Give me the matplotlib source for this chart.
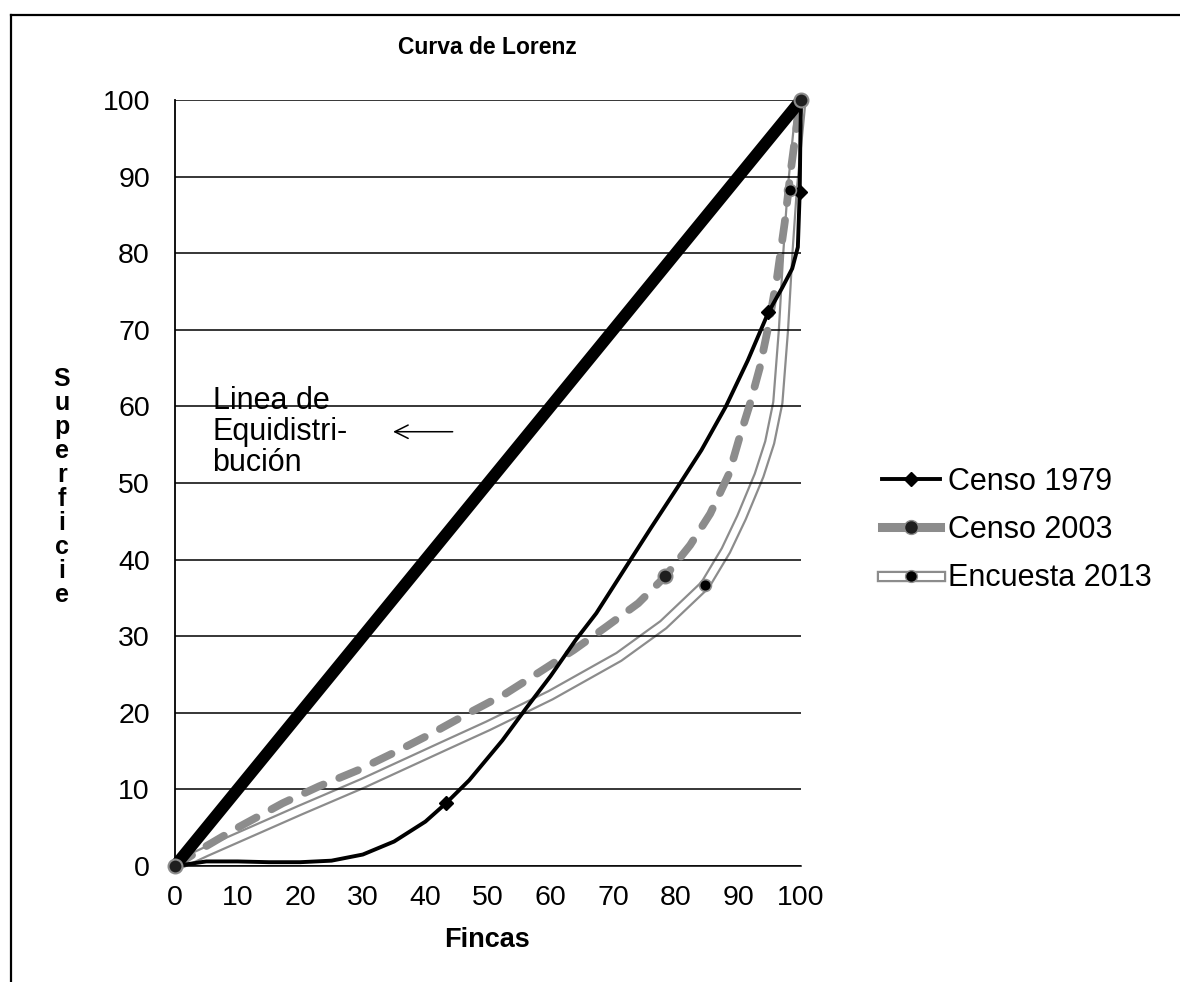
import matplotlib
matplotlib.use("Agg")
import matplotlib.pyplot as plt
from matplotlib.lines import Line2D

plt.rcParams["font.family"] = ["Liberation Sans", "DejaVu Sans"]

TITLE = "Curva de Lorenz"
X_LABEL = "Fincas"
Y_LABEL = "Superficie"
NOTE = "Linea de\nEquidistri-\nbución"
TICKS = list(range(0, 101, 10))
SERIES = ["Censo 1979", "Censo 2003", "Encuesta 2013"]

# line of perfect equality
EQ_X = [0, 100]
EQ_Y = [0, 100]

# smoothed traces, plus the marked data points
C79_X = [0, 5, 10, 15, 20, 25, 30, 35, 40, 43.3, 47, 52.3, 56, 60, 64, 67.3, 72, 76,
         80.4, 84.1, 88, 91.5, 94.8, 97, 98.6, 99.5, 99.8, 99.9, 100]
C79_Y = [0, 0.6, 0.6, 0.5, 0.5, 0.7, 1.5, 3.2, 5.8, 8.2, 11.2, 16.4, 20.5, 24.8, 29.5, 33.0,
         39.0, 44.1, 49.6, 54.3, 60.0, 66.0, 72.3, 75.5, 78.0, 80.8, 88.0, 95.0, 100]
C79_MX = [0, 43.3, 94.8, 99.8, 100]
C79_MY = [0, 8.2, 72.3, 88.0, 100]

C03_X = [0, 5, 10, 17.2, 23, 29.2, 35, 41, 47, 52.8, 58, 63.7, 69, 74, 78.3, 82.3, 85.5,
         88.5, 90.2, 91.8, 93.4, 94.8, 96.2, 97.4, 98.4, 99.3, 100]
C03_Y = [0, 2.6, 5.0, 8.2, 10.4, 12.5, 14.8, 17.3, 20.0, 22.5, 25.2, 28.2, 31.3, 34.3, 37.8,
         41.9, 46.0, 51.2, 56.0, 60.2, 65.0, 70.5, 77.0, 84.0, 91.0, 96.5, 100]
C03_MX = [0, 78.3, 100]
C03_MY = [0, 37.8, 100]

E13_X = [0, 5, 10, 20, 30, 43.3, 50, 60, 70.9, 78, 84.7, 88, 90.5, 93.3, 95, 96.3, 97.2,
         97.9, 98.6, 99.4, 100]
E13_Y = [0, 1.9, 3.7, 7.3, 10.8, 15.8, 18.3, 22.3, 27.3, 31.5, 36.7, 41.2, 45.5, 51.0, 55.3,
         60.5, 70.0, 80.0, 88.3, 95.0, 100]
E13_MX = [84.7, 98.3]
E13_MY = [36.7, 88.3]

GREY = "#8c8c8c"

fig = plt.figure(figsize=(11.8, 9.82), dpi=100)
ax = fig.add_axes([0.1483, 0.1181, 0.5305, 0.7800])
ax.set_xlim(0, 100)
ax.set_ylim(0, 100)
ax.set_xticks(TICKS)
ax.set_yticks(TICKS)
ax.tick_params(length=0, labelsize=20.5)
ax.tick_params(axis="y", pad=18)
ax.tick_params(axis="x", pad=14)
ax.set_axisbelow("line")
ax.grid(axis="y", color="black", lw=1.1)
for s in ("top", "right"):
    ax.spines[s].set_visible(False)
ax.spines["left"].set_linewidth(1.3)
ax.spines["bottom"].set_linewidth(1.1)

# Encuesta 2013: double line (grey outline, open core) under the grid
ax.plot(E13_X, E13_Y, color=GREY, lw=8.2, zorder=1.0, clip_on=False, solid_capstyle="round")
ax.plot(E13_X, E13_Y, color="white", lw=5.0, zorder=1.1, clip_on=False, solid_capstyle="round")

ax.plot(C03_X, C03_Y, color=GREY, lw=5.6, dashes=(2.6, 2.2), dash_capstyle="round",
        zorder=2.2, clip_on=False)
ax.plot(C79_X, C79_Y, color="black", lw=2.8, zorder=2.4, clip_on=False)
ax.plot(EQ_X, EQ_Y, color="black", lw=8.6, zorder=2.6, clip_on=False, solid_capstyle="butt")

ax.plot(C79_MX, C79_MY, ls="none", marker="D", ms=7.5, color="black", zorder=3, clip_on=False)
ax.plot(C03_MX, C03_MY, ls="none", marker="o", ms=10, mfc="#1e1e1e", mec=GREY, mew=1.5,
        zorder=3.1, clip_on=False)
ax.plot(E13_MX, E13_MY, ls="none", marker="o", ms=8.5, mfc="black", mec=GREY, mew=1.2,
        zorder=3.2, clip_on=False)

ax.text(6.0, 56.7, NOTE, fontsize=22, ha="left", va="center", linespacing=1.05)
ax.annotate("", xy=(34.4, 56.7), xytext=(44.8, 56.7),
            arrowprops=dict(arrowstyle="->", color="black", lw=1.1, mutation_scale=24))

fig.text(0.4127, 0.952, TITLE, fontsize=16.5, fontweight="bold", ha="center", va="center")
fig.text(0.4127, 0.0428, X_LABEL, fontsize=19.5, fontweight="bold", ha="center", va="center")
fig.text(0.0525, 0.504, "\n".join(Y_LABEL), fontsize=18, fontweight="bold",
         ha="center", va="center", linespacing=1.0)

h79 = Line2D([], [], color="black", lw=2.8, marker="D", ms=7.5)
h03 = Line2D([], [], color=GREY, lw=6.5, marker="o", ms=10, mfc="#1e1e1e", mec=GREY)
h13 = (Line2D([], [], color=GREY, lw=8.2),
       Line2D([], [], color="white", lw=5.0),
       Line2D([], [], ls="none", marker="o", ms=8.5, mfc="black", mec=GREY))
fig.legend([h79, h03, h13], SERIES, loc="center left", bbox_to_anchor=(0.7475, 0.4603),
           frameon=False, fontsize=22, handlelength=1.9, handletextpad=0.26,
           labelspacing=0.6, borderpad=0, borderaxespad=0)

# outer chart frame (left and top edges visible in the scan)
fig.add_artist(Line2D([0.0093, 0.0093], [0.0, 0.9847], color="black", lw=1.6))
fig.add_artist(Line2D([0.0093, 1.0], [0.9847, 0.9847], color="black", lw=1.6))

fig.savefig("out.png", dpi=100)
